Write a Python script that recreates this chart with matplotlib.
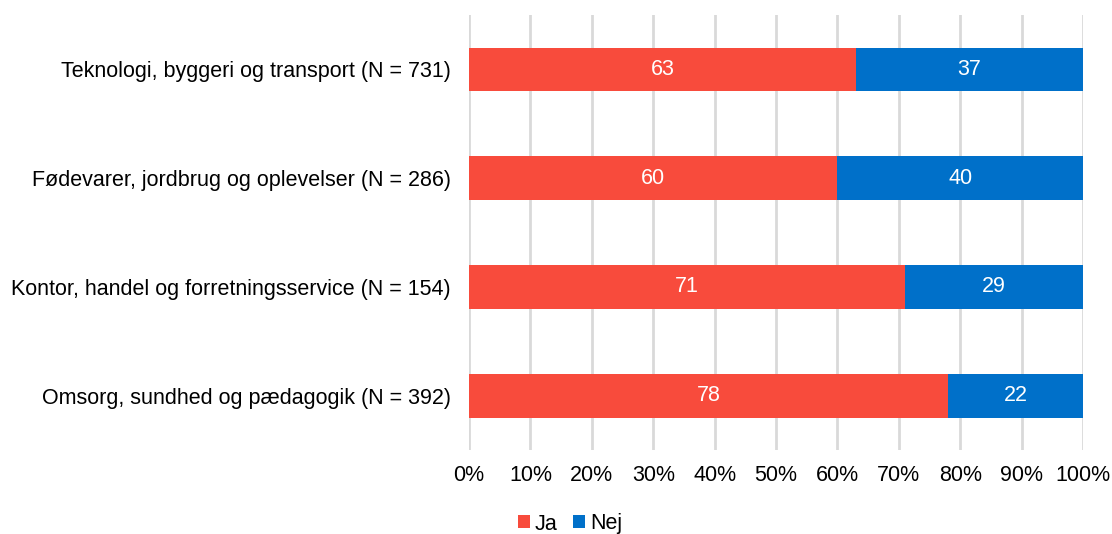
import matplotlib.pyplot as plt
import numpy as np

plt.rcParams['font.family'] = ['Liberation Sans', 'DejaVu Sans']

categories = ['Teknologi, byggeri og transport (N = 731)',
              'Fødevarer, jordbrug og oplevelser (N = 286)',
              'Kontor, handel og forretningsservice (N = 154)',
              'Omsorg, sundhed og pædagogik (N = 392)']
ja = [63, 60, 71, 78]
nej = [37, 40, 29, 22]

red = '#F84B3C'
blue = '#0070C9'
fs = 15.5

fig = plt.figure(figsize=(11.12, 5.34), dpi=100)
ax = fig.add_axes([0.4218, 0.157, 0.5522, 0.815])

y = np.arange(len(categories))
b1 = ax.barh(y, ja, height=0.4, color=red, label='Ja', zorder=3)
b2 = ax.barh(y, nej, left=ja, height=0.4, color=blue, label='Nej', zorder=3)

for bars, vals, lefts in [(b1, ja, [0]*4), (b2, nej, ja)]:
    for bar, v, l in zip(bars, vals, lefts):
        ax.text(l + v / 2, bar.get_y() + bar.get_height() / 2, str(v),
                ha='center', va='center', color='white', fontsize=fs, zorder=4)

ax.set_xlim(0, 100)
ax.set_ylim(3.5, -0.5)
ax.set_yticks(y)
ax.set_yticklabels(categories, fontsize=fs)
ax.set_xticks(range(0, 101, 10))
ax.set_xticklabels([f'{t}%' for t in range(0, 101, 10)], fontsize=fs)
ax.tick_params(length=0)
ax.tick_params(axis='y', pad=13)
ax.tick_params(axis='x', pad=11)
ax.grid(axis='x', color='#D9D9D9', linewidth=2, zorder=0)
for s in ax.spines.values():
    s.set_visible(False)

ax.legend(loc='center', bbox_to_anchor=(570 / 1112, 1 - 524 / 534),
          bbox_transform=fig.transFigure, ncol=2, frameon=False, fontsize=fs,
          handlelength=0.55, handleheight=0.55, handletextpad=0.25, columnspacing=0.7)

fig.savefig('out.png', dpi=100)
